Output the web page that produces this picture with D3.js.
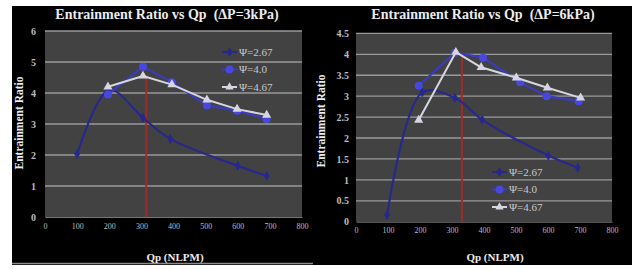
<!DOCTYPE html>
<html><head><meta charset="utf-8">
<script src="https://cdn.jsdelivr.net/npm/d3@7"></script>
<style>html,body{margin:0;padding:0;background:#fff;}svg{display:block;}text{white-space:pre;}</style>
</head><body>
<svg id="c" width="637" height="269"></svg>
<script>
// ---- data ----
const xTicks = [0, 100, 200, 300, 400, 500, 600, 700, 800];
const seriesNames = ["Ψ=2.67", "Ψ=4.0", "Ψ=4.67"];

const leftTitle = "Entrainment Ratio vs Qp  (ΔP=3kPa)";
const leftYTicks = [0, 1, 2, 3, 4, 5, 6];
const left267X = [100, 200, 305, 390, 600, 690];
const left267Y = [2.03, 4.1, 3.2, 2.52, 1.65, 1.33];
const left40X = [196, 305, 395, 504, 598, 690];
const left40Y = [3.95, 4.85, 4.35, 3.6, 3.43, 3.16];
const left467X = [196, 305, 395, 504, 598, 690];
const left467Y = [4.2, 4.55, 4.27, 3.78, 3.48, 3.29];
const leftRedLine = [315, 4.57];

const rightTitle = "Entrainment Ratio vs Qp  (ΔP=6kPa)";
const rightYTicks = [0, 0.5, 1, 1.5, 2, 2.5, 3, 3.5, 4, 4.5];
const right267X = [97, 207, 309, 394, 601, 693];
const right267Y = [0.16, 3.09, 2.96, 2.44, 1.58, 1.29];
const right40X = [196, 309, 397, 513, 596, 696];
const right40Y = [3.25, 4.04, 3.92, 3.33, 3.0, 2.88];
const right467X = [196, 312, 391, 501, 598, 702];
const right467Y = [2.43, 4.05, 3.69, 3.44, 3.2, 2.96];
const rightRedLine = [331, 4.04];

// ---- drawing ----
const svg = d3.select("#c");
const serif = "'Liberation Serif','Times New Roman',serif";

svg.append("rect").attr("x", 12).attr("y", 6).attr("width", 620).attr("height", 259).attr("fill", "#000");
svg.append("line").attr("x1", 12).attr("x2", 313).attr("y1", 263.5).attr("y2", 263.5).attr("stroke", "#8a8a8a").attr("stroke-width", 1.5);

const colors = ["#28288c", "#3b3bc0", "#d6d6e2"];

function panel(cfg) {
  const g = svg.append("g");
  const x = d3.scaleLinear().domain([0, 800]).range([cfg.left, cfg.right]);
  const y = d3.scaleLinear().domain([0, d3.max(cfg.yTicks)]).range([cfg.bottom, cfg.top]);

  g.append("rect").attr("x", cfg.left).attr("y", cfg.top)
    .attr("width", cfg.right - cfg.left).attr("height", cfg.bottom - cfg.top)
    .attr("fill", "#424242");

  // grid
  g.selectAll(".grid").data(cfg.yTicks.filter(d => d > 0)).enter().append("line")
    .attr("x1", cfg.left).attr("x2", cfg.right)
    .attr("y1", d => y(d)).attr("y2", d => y(d))
    .attr("stroke", "#9a9a9a").attr("stroke-width", 1.3);

  // axes
  const ya = g.append("g").attr("transform", `translate(${cfg.left},0)`)
    .call(d3.axisLeft(y).tickValues(cfg.yTicks).tickSize(0).tickPadding(cfg.yPad).tickFormat(d => String(d)));
  ya.select(".domain").remove();
  ya.selectAll("text").attr("fill", "#bdbdbd").style("font-family", serif).style("font-size", "10px").style("font-weight", "bold");

  const xa = g.append("g").attr("transform", `translate(0,${cfg.bottom})`)
    .call(d3.axisBottom(x).tickValues(xTicks).tickSize(0).tickPadding(6).tickFormat(d => String(d)));
  xa.select(".domain").attr("stroke", "#777");
  xa.selectAll("text").attr("fill", "#bdbdbd").style("font-family", serif).style("font-size", "8px");

  // red line
  g.append("line").attr("x1", x(cfg.red[0])).attr("x2", x(cfg.red[0]))
    .attr("y1", y(cfg.red[1])).attr("y2", y(0))
    .attr("stroke", "#a32a2a").attr("stroke-width", 2);

  const sets = [
    { xs: cfg.s267x, ys: cfg.s267y, curve: d3.curveCatmullRom, c: colors[0], w: 2.2 },
    { xs: cfg.s40x, ys: cfg.s40y, curve: d3.curveLinear, c: colors[1], w: 2.2 },
    { xs: cfg.s467x, ys: cfg.s467y, curve: d3.curveLinear, c: colors[2], w: 2 },
  ];
  sets.forEach((s, i) => {
    const pts = s.xs.map((v, k) => [v, s.ys[k]]);
    g.append("path").attr("d", d3.line().x(d => x(d[0])).y(d => y(d[1])).curve(s.curve)(pts))
      .attr("fill", "none").attr("stroke", s.c).attr("stroke-width", s.w).attr("stroke-linejoin", "round");
    const sym = i === 0 ? d3.symbolDiamond : (i === 1 ? d3.symbolCircle : d3.symbolTriangle);
    const size = i === 0 ? 30 : (i === 1 ? 50 : 36);
    const fill = i === 1 ? "#4848e0" : s.c;
    g.selectAll(null).data(pts).enter().append("path")
      .attr("d", d3.symbol().type(sym).size(size))
      .attr("transform", d => `translate(${x(d[0])},${y(d[1])})`)
      .attr("fill", fill);
  });

  // legend
  seriesNames.forEach((name, i) => {
    const ly = cfg.legY + i * cfg.legDy;
    const lg = g.append("g");
    lg.append("line").attr("x1", cfg.legX).attr("x2", cfg.legX + 15).attr("y1", ly).attr("y2", ly)
      .attr("stroke", sets[i].c).attr("stroke-width", 2);
    const sym = i === 0 ? d3.symbolDiamond : (i === 1 ? d3.symbolCircle : d3.symbolTriangle);
    lg.append("path").attr("d", d3.symbol().type(sym).size(i === 1 ? 50 : 30))
      .attr("transform", `translate(${cfg.legX + 7.5},${ly})`).attr("fill", i === 1 ? "#4848e0" : sets[i].c);
    lg.append("text").attr("x", cfg.legX + 17).attr("y", ly).attr("dy", "0.35em")
      .attr("fill", "#c8c8c8").style("font-family", serif).style("font-size", "11px").text(name);
  });

  // titles
  g.append("text").attr("x", cfg.titleX).attr("y", 19).attr("text-anchor", "middle")
    .attr("fill", "#ececec").style("font-family", serif).style("font-size", "14px").style("font-weight", "bold")
    .text(cfg.title);
  g.append("text").attr("x", cfg.xTitleX).attr("y", 261).attr("text-anchor", "middle")
    .attr("fill", "#ececec").style("font-family", serif).style("font-size", "11px").style("font-weight", "bold")
    .text("Qp (NLPM)");
  g.append("text").attr("transform", `translate(${cfg.yTitleX},${cfg.yTitleY}) rotate(-90)`).attr("text-anchor", "middle")
    .attr("fill", "#ececec").style("font-family", serif).style("font-size", "11.5px").style("font-weight", "bold")
    .text("Entrainment Ratio");
}

panel({ left: 45, right: 302, top: 31, bottom: 217, yTicks: leftYTicks, yPad: 9,
  s267x: left267X, s267y: left267Y, s40x: left40X, s40y: left40Y, s467x: left467X, s467y: left467Y,
  red: leftRedLine, legX: 222, legY: 52, legDy: 17.5, title: leftTitle, titleX: 167, xTitleX: 175,
  yTitleX: 23, yTitleY: 123 });

panel({ left: 356, right: 612, top: 33.4, bottom: 221.7, yTicks: rightYTicks, yPad: 7,
  s267x: right267X, s267y: right267Y, s40x: right40X, s40y: right40Y, s467x: right467X, s467y: right467Y,
  red: rightRedLine, legX: 492, legY: 172, legDy: 17.5, title: rightTitle, titleX: 483, xTitleX: 495,
  yTitleX: 325, yTitleY: 121 });
</script>
</body></html>
